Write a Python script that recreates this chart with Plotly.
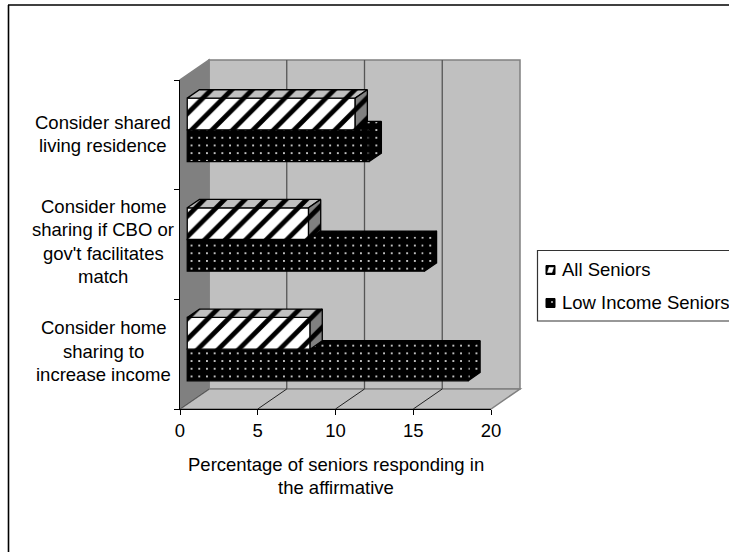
import plotly.graph_objects as go

category_lines = [
    ["Consider home", "sharing to", "increase income"],
    ["Consider home", "sharing if CBO or", "gov't facilitates", "match"],
    ["Consider shared", "living residence"],
]
all_seniors = [7.9, 7.8, 10.8]
low_income = [18.05, 15.25, 11.7]
x_ticks = [0, 5, 10, 15, 20]
x_title_lines = ["Percentage of seniors responding in", "the affirmative"]
series_names = ["All Seniors", "Low Income Seniors"]

W, H = 729, 552
FONT = "Liberation Sans, Arial, sans-serif"
FS = 18.5
X0, X1, Y0, Y1 = 180, 491, 409, 80
DX, DY = 29, 20
ux = (X1 - X0) / 20
uy = (Y0 - Y1) / 3
dxu, dyu = DX / ux, DY / uy
BAR_H = 0.289
FRONT = 0.25
DEPTH = 0.42
LABEL_SHIFT = [-3, -3, -0.5]


def px(x):
    return x / W


def py(y):
    return 1 - y / H


fig = go.Figure()


def add_series(values, names, xa, ya, lower, front_bg, fg, shape, size, sol, top_bg, side_bg):
    base = FRONT * dxu
    ys = [i + 0.5 + FRONT * dyu + (-BAR_H / 2 if lower else BAR_H / 2) for i in range(3)]
    pat = dict(shape=shape, fgcolor=fg, fgopacity=1, size=size, solidity=sol)
    fig.add_trace(go.Bar(
        y=ys, x=values, base=base, width=BAR_H, orientation="h", name=names,
        xaxis=xa, yaxis=ya, cliponaxis=False, showlegend=False,
        marker=dict(color=front_bg, line=dict(color="black", width=1.3),
                    pattern=dict(bgcolor=front_bg, **pat)),
    ))
    for v, yc in zip(values, ys):
        xe = base + v
        yt = yc + BAR_H / 2
        yb = yc - BAR_H / 2
        d, e = DEPTH * dxu, DEPTH * dyu
        faces = [
            ([base, xe, xe + d, base + d, base], [yt, yt, yt + e, yt + e, yt], top_bg),
            ([xe, xe + d, xe + d, xe, xe], [yb, yb + e, yt + e, yt, yb], side_bg),
        ]
        for fx, fy, bg in faces:
            fig.add_trace(go.Scatter(
                x=fx, y=fy, mode="lines", fill="toself", xaxis=xa, yaxis=ya,
                cliponaxis=False, showlegend=False, hoverinfo="skip",
                line=dict(color="black", width=1.3), fillcolor=bg,
                fillpattern=dict(bgcolor=bg, **pat),
            ))


add_series(low_income, series_names[1], "x", "y", True, "black", "white", ".", 7.7, 0.05, "black", "black")
add_series(all_seniors, series_names[0], "x2", "y2", False, "white", "black", "/", 14.5, 0.33, "#c0c0c0", "#808080")

shapes = []


def poly(points, fill, line, width=1.5, layer="below"):
    path = "M " + " L ".join(f"{px(a):.5f},{py(b):.5f}" for a, b in points) + " Z"
    shapes.append(dict(type="path", xref="paper", yref="paper", path=path, fillcolor=fill,
                       line=dict(color=line, width=width), layer=layer))


def seg(p, q, color, width=1.3):
    shapes.append(dict(type="line", xref="paper", yref="paper", x0=px(p[0]), y0=py(p[1]),
                       x1=px(q[0]), y1=py(q[1]), line=dict(color=color, width=width), layer="below"))


# chart frame
seg((8.5, 552), (8.5, 5), "black", 1.6)
seg((8, 5), (729, 5), "black", 1.6)
# walls
poly([(X0 + DX, Y1 - DY), (X1 + DX, Y1 - DY), (X1 + DX, Y0 - DY), (X0 + DX, Y0 - DY)], "#c0c0c0", "#808080")
poly([(X0, Y0), (X1, Y0), (X1 + DX, Y0 - DY), (X0 + DX, Y0 - DY)], "#c0c0c0", "#808080")
poly([(X0, Y0), (X0 + DX, Y0 - DY), (X0 + DX, Y1 - DY), (X0, Y1)], "#808080", "#808080")
for t in x_ticks[1:-1]:
    xp = X0 + t * ux
    seg((xp + DX, Y1 - DY), (xp + DX, Y0 - DY), "#555555")
    seg((xp, Y0), (xp + DX, Y0 - DY), "#222222", 1)
seg((X0, Y0), (X0 + DX, Y0 - DY), "#555555", 1)

# legend
LX, LT, LB = 537.5, 250.5, 321
shapes.append(dict(type="rect", xref="paper", yref="paper", x0=px(LX), x1=px(W + 5), y0=py(LB), y1=py(LT),
                   fillcolor="white", line=dict(color="#333333", width=1.2)))
poly([(546, 265.5), (555, 265.5), (555, 274.5), (546, 274.5)], "black", "black", 1, "above")
poly([(549, 267.5), (553.5, 267.5), (552, 272.5), (547.5, 272.5)], "white", "white", 0.5, "above")
poly([(546, 298.5), (555, 298.5), (555, 307.5), (546, 307.5)], "black", "black", 1, "above")
poly([(551.5, 301.5), (552.5, 301.5), (552.5, 302.5), (551.5, 302.5)], "white", "white", 0.5, "above")

ann = []


def label(x, y, text, anchor="center"):
    ann.append(dict(xref="paper", yref="paper", x=px(x), y=py(y), text=text, showarrow=False,
                    xanchor=anchor, yanchor="middle", font=dict(family=FONT, size=FS, color="black"),
                    borderpad=0, borderwidth=0))


LINE = 23.3
for i, lines in enumerate(category_lines):
    yc = Y0 - (i + 0.5) * uy + LABEL_SHIFT[i]
    for j, s in enumerate(lines):
        label(103, yc + (j - (len(lines) - 1) / 2) * LINE, s)
for j, s in enumerate(x_title_lines):
    label(336, 464.5 + j * 22.5, s)
label(562, 269, series_names[0], "left")
label(562, 302, series_names[1], "left")

axis_common = dict(showgrid=False, zeroline=False)
fig.update_layout(
    width=W, height=H, margin=dict(l=0, r=0, t=0, b=0, autoexpand=False), autosize=False,
    paper_bgcolor="white", plot_bgcolor="rgba(0,0,0,0)", barmode="overlay", showlegend=False,
    font=dict(family=FONT, size=FS, color="black"),
    xaxis=dict(domain=[px(X0), px(X1)], range=[0, 20], tickvals=x_ticks, ticks="outside", ticklen=5,
               tickcolor="black", showline=True, linecolor="black", linewidth=1.3, tickfont=dict(size=FS),
               anchor="y", **axis_common),
    yaxis=dict(domain=[py(Y0), py(Y1)], range=[0, 3], tickvals=[0, 1, 2, 3], ticktext=["", "", "", ""],
               ticks="outside", ticklen=5, tickcolor="black", showline=True, linecolor="black", linewidth=1.3,
               anchor="x", **axis_common),
    xaxis2=dict(domain=[px(X0), px(X1)], range=[0, 20], overlaying="x", visible=False, anchor="y2", **axis_common),
    yaxis2=dict(domain=[py(Y0), py(Y1)], range=[0, 3], overlaying="y", visible=False, anchor="x2", **axis_common),
    shapes=shapes, annotations=ann,
)
fig.write_html("out.html", post_script="document.body.style.margin='0';", config={"displayModeBar": False})
